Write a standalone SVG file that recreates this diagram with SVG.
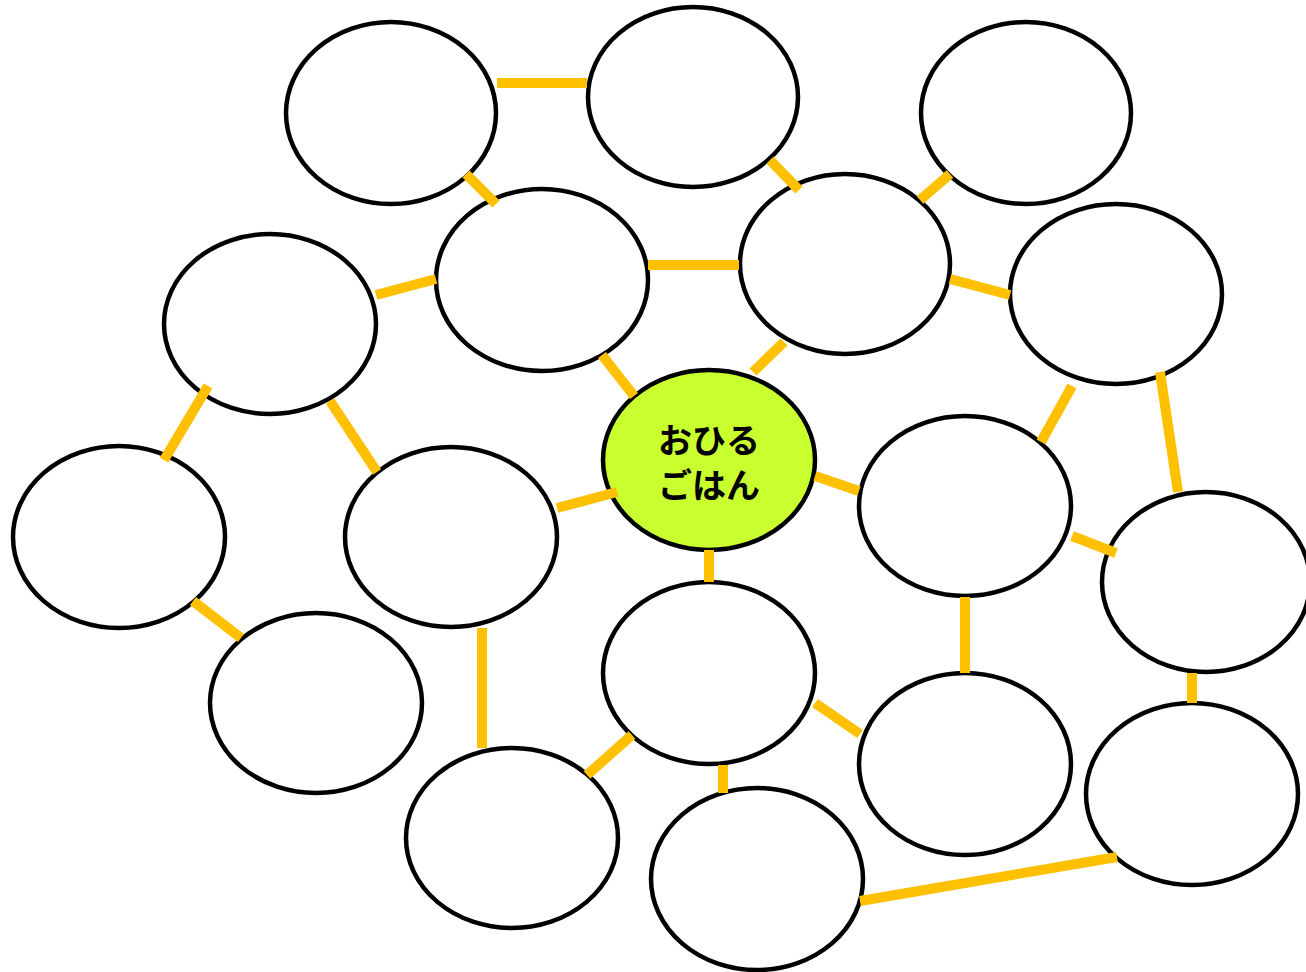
<svg xmlns="http://www.w3.org/2000/svg" width="1306" height="972" viewBox="0 0 1306 972">
<style>
.n{fill:#fff;stroke:#000;stroke-width:4.5}
.c{fill:#c9ff2e}
.l{stroke:#ffc000;stroke-width:10;fill:none}
.t{font-family:"Noto Sans CJK JP","Noto Sans",sans-serif;font-size:34px;font-weight:bold;fill:#000;text-anchor:middle}
</style>
<rect width="1306" height="972" fill="#fff"/>
<g id="nodes">
<g id="n1"><ellipse class="n" cx="391" cy="113" rx="105" ry="91"/></g>
<g id="n2"><ellipse class="n" cx="693" cy="97" rx="105" ry="90"/></g>
<g id="n3"><ellipse class="n" cx="1026" cy="113" rx="105" ry="91"/></g>
<g id="n4"><ellipse class="n" cx="542" cy="280" rx="106" ry="91"/></g>
<g id="n5"><ellipse class="n" cx="845" cy="264" rx="105" ry="90"/></g>
<g id="n6"><ellipse class="n" cx="1116" cy="294" rx="106" ry="90"/></g>
<g id="n7"><ellipse class="n" cx="270" cy="324" rx="106" ry="90"/></g>
<g id="n9"><ellipse class="n" cx="119" cy="537" rx="106" ry="91"/></g>
<g id="n10"><ellipse class="n" cx="451" cy="537" rx="106" ry="90"/></g>
<g id="n11"><ellipse class="n" cx="965" cy="506" rx="106" ry="90"/></g>
<g id="n12"><ellipse class="n" cx="1206" cy="582" rx="104" ry="90"/></g>
<g id="n13"><ellipse class="n" cx="316" cy="703" rx="106" ry="90"/></g>
<g id="n14"><ellipse class="n" cx="709" cy="673" rx="106" ry="91"/></g>
<g id="n15"><ellipse class="n" cx="965" cy="764" rx="106" ry="91"/></g>
<g id="n16"><ellipse class="n" cx="1192" cy="794" rx="106" ry="91"/></g>
<g id="n17"><ellipse class="n" cx="512" cy="838" rx="106" ry="90"/></g>
<g id="n18"><ellipse class="n" cx="757" cy="879" rx="106" ry="91"/></g>
<g id="center"><ellipse class="n c" cx="709" cy="460" rx="106" ry="90"/>
<text class="t" x="709" y="453">おひる</text>
<text class="t" x="709" y="498">ごはん</text></g>
</g>
<g id="connectors">
<line class="l" x1="497" y1="83" x2="587" y2="83"/>
<line class="l" x1="466" y1="174" x2="496" y2="204"/>
<line class="l" x1="770" y1="160" x2="799" y2="190"/>
<line class="l" x1="920" y1="200" x2="950" y2="174"/>
<line class="l" x1="648" y1="265" x2="739" y2="265"/>
<line class="l" x1="376" y1="295" x2="436" y2="279"/>
<line class="l" x1="950" y1="279" x2="1010" y2="295"/>
<line class="l" x1="602" y1="355" x2="634" y2="396"/>
<line class="l" x1="784" y1="342" x2="753" y2="372"/>
<line class="l" x1="208" y1="386" x2="164" y2="460"/>
<line class="l" x1="330" y1="401" x2="377" y2="472"/>
<line class="l" x1="1072" y1="386" x2="1041" y2="442"/>
<line class="l" x1="1160" y1="372" x2="1178" y2="492"/>
<line class="l" x1="557" y1="508" x2="617" y2="492"/>
<line class="l" x1="815" y1="476" x2="859" y2="491"/>
<line class="l" x1="709" y1="550" x2="709" y2="582"/>
<line class="l" x1="1072" y1="536" x2="1116" y2="553"/>
<line class="l" x1="193" y1="601" x2="241" y2="638"/>
<line class="l" x1="482" y1="628" x2="482" y2="748"/>
<line class="l" x1="965" y1="597" x2="965" y2="673"/>
<line class="l" x1="1192" y1="673" x2="1192" y2="703"/>
<line class="l" x1="815" y1="703" x2="860" y2="734"/>
<line class="l" x1="632" y1="735" x2="587" y2="775"/>
<line class="l" x1="723" y1="765" x2="723" y2="793"/>
<line class="l" x1="860" y1="901" x2="1117" y2="857"/>
</g>
</svg>
